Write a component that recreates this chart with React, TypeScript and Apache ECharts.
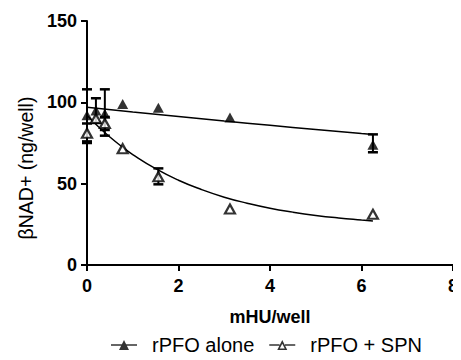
import React, { useEffect, useRef } from "react";
import * as echarts from "echarts";

// Doses (mHU/well)
const doses = [0, 0.195, 0.39, 0.78, 1.56, 3.125, 6.25];
// rPFO alone (filled triangles)
const aloneValues = [92, 95, 93, 99, 96.7, 90.6, 74];
// rPFO + SPN (open triangles)
const spnValues = [81, 90, 87, 71.5, 54.3, 34.4, 31.2];

// Error bars [dose, low, high]
const aloneErrors = [
  [0, 76, 108],
  [0.195, 87.5, 102.5],
  [0.39, 79.5, 108],
  [6.25, 69.3, 80.3],
];
const spnErrors = [
  [0, 75, 87],
  [0.39, 83, 91],
  [1.56, 49.6, 59.4],
];

// Fitted curves
const aloneFitX = [0, 1, 2, 3, 4, 5, 6, 6.25];
const aloneFitY = [97, 94.1, 91.3, 88.5, 85.9, 83.3, 80.8, 80.2];
const spnFitX = [0, 0.25, 0.5, 0.75, 1, 1.5, 2, 2.5, 3, 3.5, 4, 4.5, 5, 5.5, 6, 6.25];
const spnFitY = [92, 85, 78.7, 73, 67.9, 59.2, 52.1, 46.4, 41.7, 38, 34.9, 32.5, 30.5, 28.9, 27.6, 27];

const xTicks = [0, 2, 4, 6, 8];
const yTicks = [0, 50, 100, 150];

const seriesNames = ["rPFO alone", "rPFO + SPN"];

const FONT = "Liberation Sans, Arial, sans-serif";

const filledIcon = "path://M0,5.2H26V6.8H0Z M13,1L18,11H8Z";
const openIcon =
  "path://M0,5.2H10.3V6.8H0Z M15.7,5.2H26V6.8H15.7Z M13,1L18,11H8Z M13,4.7L10.5,9.6H15.5Z";

function errorRender(params: any, api: any) {
  const x = api.value(0);
  const lo = api.value(1);
  const hi = api.value(2);
  const pLo = api.coord([x, lo]);
  const pHi = api.coord([x, hi]);
  const w = 5;
  const st = { stroke: "#000", lineWidth: 2 };
  return {
    type: "group",
    children: [
      { type: "line", shape: { x1: pHi[0], y1: pHi[1], x2: pLo[0], y2: pLo[1] }, style: st },
      { type: "line", shape: { x1: pHi[0] - w, y1: pHi[1], x2: pHi[0] + w, y2: pHi[1] }, style: { stroke: "#000", lineWidth: 2.5 } },
      { type: "line", shape: { x1: pLo[0] - w, y1: pLo[1], x2: pLo[0] + w, y2: pLo[1] }, style: { stroke: "#000", lineWidth: 2.5 } },
    ],
  };
}

export default function App() {
  const ref = useRef<HTMLDivElement>(null);
  useEffect(() => {
    if (!ref.current) return;
    const chart = echarts.init(ref.current, null, { renderer: "svg" });
    chart.setOption({
      animation: false,
      grid: { left: 87, right: 3.3, top: 21, bottom: 95, containLabel: false },
      textStyle: { fontFamily: FONT },
      xAxis: {
        type: "value",
        min: xTicks[0],
        max: xTicks[xTicks.length - 1],
        interval: 2,
        name: "mHU/well",
        nameLocation: "middle",
        nameGap: 43,
        nameTextStyle: { fontFamily: FONT, fontWeight: "bold", fontSize: 18, color: "#000" },
        axisLine: { show: true, onZero: false, lineStyle: { color: "#000", width: 2 } },
        axisTick: { show: true, length: 6, lineStyle: { color: "#000", width: 2 } },
        axisLabel: { fontFamily: FONT, fontWeight: "bold", fontSize: 18, color: "#000", margin: 12 },
        splitLine: { show: false },
      },
      yAxis: {
        type: "value",
        min: yTicks[0],
        max: yTicks[yTicks.length - 1],
        interval: 50,
        axisLine: { show: true, onZero: false, lineStyle: { color: "#000", width: 2 } },
        axisTick: { show: true, length: 6, lineStyle: { color: "#000", width: 2 } },
        axisLabel: { fontFamily: FONT, fontWeight: "bold", fontSize: 18, color: "#000", margin: 10 },
        splitLine: { show: false },
      },
      legend: {
        left: 111,
        top: 335,
        padding: 0,
        itemWidth: 26,
        itemHeight: 12,
        itemGap: 15,
        textStyle: { fontFamily: FONT, fontSize: 20, color: "#000", padding: [0, 0, 0, 10] },
        data: [
          { name: seriesNames[0], icon: filledIcon, itemStyle: { color: "#000", borderWidth: 0 } },
          { name: seriesNames[1], icon: openIcon, itemStyle: { color: "#000", borderWidth: 0 } },
        ],
      },
      graphic: [
        {
          type: "text",
          x: 26,
          y: 168,
          rotation: Math.PI / 2,
          style: {
            text: "βNAD+ (ng/well)",
            fontFamily: FONT,
            fontSize: 19.5,
            fill: "#000",
            align: "center",
            verticalAlign: "middle",
          },
        },
      ],
      series: [
        {
          type: "line",
          data: aloneFitX.map((x, i) => [x, aloneFitY[i]]),
          smooth: true,
          showSymbol: false,
          lineStyle: { color: "#000", width: 1.5 },
          z: 1,
          silent: true,
        },
        {
          type: "line",
          data: spnFitX.map((x, i) => [x, spnFitY[i]]),
          smooth: true,
          showSymbol: false,
          lineStyle: { color: "#000", width: 1.5 },
          z: 1,
          silent: true,
        },
        {
          type: "custom",
          renderItem: errorRender,
          data: spnErrors,
          encode: { x: 0, y: [1, 2] },
          z: 2,
          clip: false,
        },
        {
          type: "custom",
          renderItem: errorRender,
          data: aloneErrors,
          encode: { x: 0, y: [1, 2] },
          z: 2,
          clip: false,
        },
        {
          name: seriesNames[1],
          type: "scatter",
          data: doses.map((x, i) => [x, spnValues[i]]),
          symbol: "triangle",
          symbolSize: [10, 9],
          itemStyle: { color: "#fff", borderColor: "#000", borderWidth: 2.2 },
          z: 3,
        },
        {
          name: seriesNames[0],
          type: "scatter",
          data: doses.map((x, i) => [x, aloneValues[i]]),
          symbol: "triangle",
          symbolSize: [11, 10],
          itemStyle: { color: "#000" },
          z: 4,
        },
      ],
    });
    return () => chart.dispose();
  }, []);
  return <div ref={ref} style={{ width: 461, height: 360, margin: -8 }} />;
}
